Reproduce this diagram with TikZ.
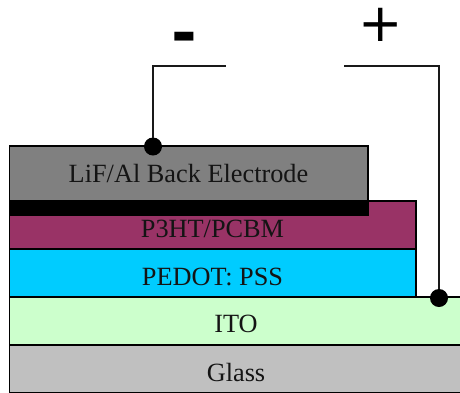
\documentclass[tikz,border=0pt]{standalone}
\usepackage{fontspec}
\setmainfont{Liberation Serif}
\newfontfamily\signfont{DejaVu Sans}
\definecolor{cglass}{HTML}{C0C0C0}
\definecolor{cito}{HTML}{CCFFCC}
\definecolor{cpedot}{HTML}{00CCFF}
\definecolor{cpoly}{HTML}{993366}
\definecolor{celec}{HTML}{808080}
\tikzset{
  layer/.style={draw=black,line width=1.6pt,anchor=north west,inner sep=0pt,outer sep=0pt},
  label/.style={font=\fontsize{26.3}{28}\selectfont,text=black!92},
  wire/.style={draw=black!90,line width=2pt},
  dot/.style={circle,fill=black,inner sep=0pt,minimum size=18pt,outer sep=0pt},
}
\begin{document}
\begin{tikzpicture}[x=1pt,y=-1pt]
\useasboundingbox (0,0) rectangle (460,392);
\begin{scope}
\clip (0,0) rectangle (460,392);
\node[layer,fill=cglass,minimum width=454pt,minimum height=48pt] (glass) at (9.5,345) {};
\node[label] (glasst) at (236,372) {Glass};
\node[layer,fill=cito,minimum width=454pt,minimum height=48pt] (ito) at (9.5,297) {};
\node[label] (itot) at (236,324) {ITO};
\end{scope}
\node[layer,fill=cpedot,minimum width=406.5pt,minimum height=48pt] (pedot) at (9.5,249) {};
\node[label] (pedott) at (212.5,277) {PEDOT: PSS};
\node[layer,fill=cpoly,minimum width=406.5pt,minimum height=48pt] (p3ht) at (9.5,201) {};
\node[label] (p3htt) at (212.5,229) {P3HT/PCBM};
\node[anchor=north west,fill=black,inner sep=0pt,minimum width=359.5pt,minimum height=15pt] (lif) at (9.5,201) {};
\node[layer,fill=celec,minimum width=358.5pt,minimum height=55pt] (elec) at (9.5,146) {};
\node[label] (elect) at (188.5,173.5) {LiF/Al Back Electrode};
\node[dot] (dl) at (153,146.5) {};
\node[dot] (dr) at (439,298) {};
\coordinate (wl) at (226,66);
\coordinate (wr) at (344,66);
\draw[wire] (dl) |- (wl);
\draw[wire] (dr) |- (wr);
\node[font=\signfont\bfseries\fontsize{62}{62}\selectfont,inner sep=0pt] (minus) at (184.5,43) {-};
\node[font=\signfont\fontsize{53}{53}\selectfont,inner sep=0pt] (plus) at (381,25) {+};
\end{tikzpicture}
\end{document}
